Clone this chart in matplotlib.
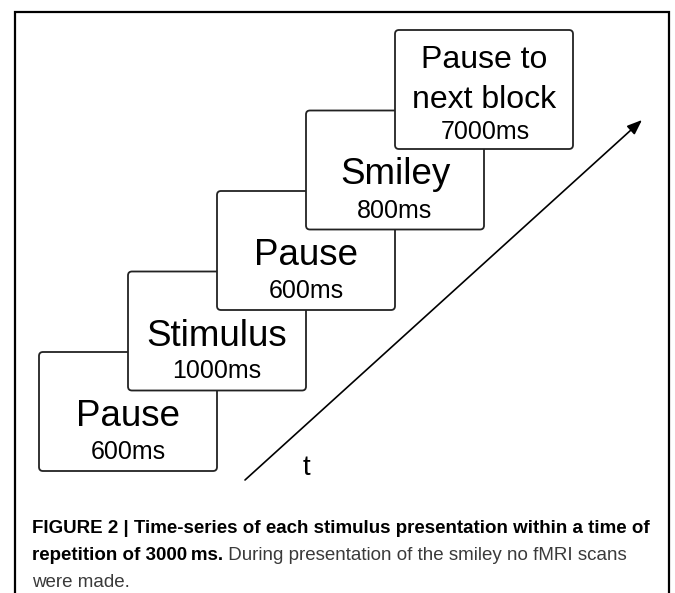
import matplotlib
matplotlib.use('Agg')
import matplotlib.pyplot as plt
from matplotlib.patches import FancyBboxPatch
from matplotlib import font_manager

# stages of one trial, bottom-left to top-right
titles = ['Pause', 'Stimulus', 'Pause', 'Smiley', 'Pause to\nnext block']
durations = ['600ms', '1000ms', '600ms', '800ms', '7000ms']

caption_bold_1 = 'FIGURE 2 | Time-series of each stimulus presentation within a time of'
caption_bold_2 = 'repetition of 3000\u2009ms.'
caption_reg_2 = ' During presentation of the smiley no fMRI scans'
caption_reg_3 = 'were made.'

names = {f.name for f in font_manager.fontManager.ttflist}
narrow = 'Liberation Sans Narrow' if 'Liberation Sans Narrow' in names else 'Liberation Sans'

W, H = 675, 593
fig = plt.figure(figsize=(W / 100, H / 100), dpi=100)
ax = fig.add_axes([0, 0, 1, 1])
ax.set_xlim(0, W)
ax.set_ylim(H, 0)
ax.axis('off')

# outer frame (open at the bottom)
ax.plot([15, 15, 669, 669], [H + 5, 12, 12, H + 5], color='black', lw=1.6,
        solid_joinstyle='miter')

x0, y0 = 39, 352      # first box top-left
dx, dy = 89, -80.5    # step between boxes
bw, bh = 178, 119

for i, (title, dur) in enumerate(zip(titles, durations)):
    x = x0 + i * dx
    y = y0 + i * dy
    box = FancyBboxPatch((x, y), bw, bh, boxstyle='round,pad=0,rounding_size=4',
                         facecolor='white', edgecolor='#222222', lw=1.3, zorder=2 + i)
    ax.add_patch(box)
    cx = x + bw / 2
    if '\n' in title:
        first, second = title.split('\n')
        ax.text(cx, y + 38, first, ha='center', va='baseline', fontsize=23,
                family='Liberation Sans', zorder=2 + i)
        ax.text(cx, y + 78, second, ha='center', va='baseline', fontsize=23,
                family='Liberation Sans', zorder=2 + i)
        ax.text(cx + 1, y + 109, dur, ha='center', va='baseline', fontsize=18,
                family='Liberation Sans', zorder=2 + i)
    else:
        ax.text(cx, y + 74, title, ha='center', va='baseline', fontsize=26.5,
                family='Liberation Sans', zorder=2 + i)
        ax.text(cx, y + 107, dur, ha='center', va='baseline', fontsize=18,
                family='Liberation Sans', zorder=2 + i)

# time arrow
ax.annotate('', xy=(642, 120), xytext=(245, 480),
            arrowprops=dict(arrowstyle='-|>,head_length=0.9,head_width=0.35',
                            lw=1.2, color='black', shrinkA=0, shrinkB=0))
ax.text(306, 475, 't', ha='center', va='baseline', fontsize=20,
        family='Liberation Sans')

# caption
cap_size = 13.5
ax.text(32, 533, caption_bold_1, ha='left', va='baseline', fontsize=cap_size,
        fontweight='bold', family=narrow)
t_b = ax.text(32, 560, caption_bold_2, ha='left', va='baseline', fontsize=cap_size,
              fontweight='bold', family=narrow)
fig.canvas.draw()
bb = t_b.get_window_extent(renderer=fig.canvas.get_renderer())
x_end = ax.transData.inverted().transform((bb.x1, bb.y0))[0]
ax.text(x_end, 560, caption_reg_2, ha='left', va='baseline', fontsize=cap_size,
        color='#3a3a3a', family=narrow)
ax.text(32, 587, caption_reg_3, ha='left', va='baseline', fontsize=cap_size,
        color='#3a3a3a', family=narrow)

fig.savefig('out.png', dpi=100)
